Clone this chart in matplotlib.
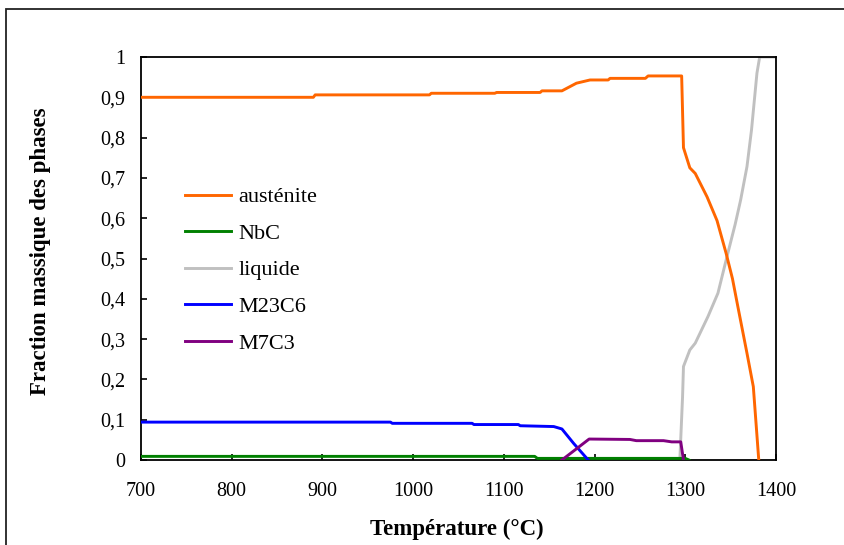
"""Fraction massique des phases vs température (calcul d'équilibre)."""
import matplotlib
matplotlib.use("Agg")
import matplotlib.pyplot as plt
from matplotlib.patches import Rectangle
from matplotlib.ticker import FuncFormatter

# austénite
t_aus = [700, 890, 892, 1018, 1020, 1090, 1092, 1140, 1142, 1164, 1180, 1195,
         1215, 1217, 1256, 1259, 1296, 1298, 1305, 1311, 1324, 1335, 1345,
         1352, 1358, 1368, 1375, 1381]
f_aus = [0.900, 0.900, 0.906, 0.906, 0.910, 0.910, 0.912, 0.912, 0.916, 0.916,
         0.935, 0.943, 0.943, 0.947, 0.947, 0.953, 0.953, 0.775, 0.725, 0.711,
         0.653, 0.594, 0.513, 0.450, 0.380, 0.265, 0.182, 0.0]
# NbC
t_nbc = [700, 1134, 1137, 1300, 1304]
f_nbc = [0.009, 0.009, 0.004, 0.004, 0.0]
# liquide
t_liq = [1290, 1294, 1297, 1298, 1305, 1311, 1325, 1336, 1346, 1355, 1361,
         1368, 1373, 1379, 1382, 1400]
f_liq = [0.0, 0.0, 0.157, 0.232, 0.273, 0.290, 0.356, 0.414, 0.505, 0.585,
         0.645, 0.728, 0.819, 0.960, 1.0, 1.0]
# M23C6
t_m23 = [700, 975, 977, 1065, 1067, 1116, 1118, 1155, 1164, 1177, 1193]
f_m23 = [0.094, 0.094, 0.091, 0.091, 0.088, 0.088, 0.085, 0.083, 0.077,
         0.041, 0.0]
# M7C3
t_m7 = [1164, 1194, 1239, 1246, 1276, 1285, 1295, 1298]
f_m7 = [0.0, 0.052, 0.051, 0.048, 0.048, 0.045, 0.045, 0.0]

x_ticks = [700, 800, 900, 1000, 1100, 1200, 1300, 1400]
y_ticks = [0, 0.1, 0.2, 0.3, 0.4, 0.5, 0.6, 0.7, 0.8, 0.9, 1.0]

plt.rcParams["font.family"] = ["Liberation Serif", "DejaVu Serif"]

fig = plt.figure(figsize=(8.45, 5.45), dpi=100)
ax = fig.add_axes([141 / 845, 1 - 460 / 545, 635 / 845, 403 / 545])

lw = 2.1
ax.plot(t_liq, f_liq, color="#C0C0C0", lw=lw, label="liquide", zorder=2)
ax.plot(t_nbc, f_nbc, color="#008000", lw=lw, label="NbC", zorder=3)
ax.plot(t_m23, f_m23, color="#0000FF", lw=lw, label="M23C6", zorder=3)
ax.plot(t_m7, f_m7, color="#800080", lw=lw, label="M7C3", zorder=3)
ax.plot(t_aus, f_aus, color="#FF6600", lw=lw, label="austénite", zorder=4)

ax.set_xlim(700, 1400)
ax.set_ylim(0, 1)
ax.set_xticks(x_ticks)
ax.set_yticks(y_ticks)
ax.yaxis.set_major_formatter(
    FuncFormatter(lambda v, p: ("%g" % round(v, 1)).replace(".", ",")))
ax.tick_params(direction="in", length=4, width=1.2, labelsize=14.5,
               top=False, right=False)
ax.tick_params(axis="x", pad=16)
ax.tick_params(axis="y", pad=11)
for s in ax.spines.values():
    s.set_linewidth(1.3)

ax.set_xlabel("Température (°C)", fontsize=16.5, fontweight="bold")
ax.set_ylabel("Fraction massique des phases", fontsize=16.5, fontweight="bold")
ax.xaxis.set_label_coords(0.498, -0.145)
ax.yaxis.set_label_coords(-0.142, 0.517)

# ordre de la légende comme l'original
h, l = ax.get_legend_handles_labels()
order = ["austénite", "NbC", "liquide", "M23C6", "M7C3"]
hh = [h[l.index(k)] for k in order]
ax.legend(hh, order, loc="upper left", bbox_to_anchor=(0.069, 0.678),
          frameon=False, fontsize=16, handlelength=2.1, handletextpad=0.3,
          labelspacing=0.72, borderpad=0, borderaxespad=0)

# cadre autour de la figure (coupé à droite et en bas)
fig.patches.append(Rectangle((6 / 845, -0.1), 1.2, 1 - 9 / 545 + 0.1,
                             transform=fig.transFigure, fill=False,
                             edgecolor="#222222", lw=1.3))

fig.savefig("out.png", dpi=100)
